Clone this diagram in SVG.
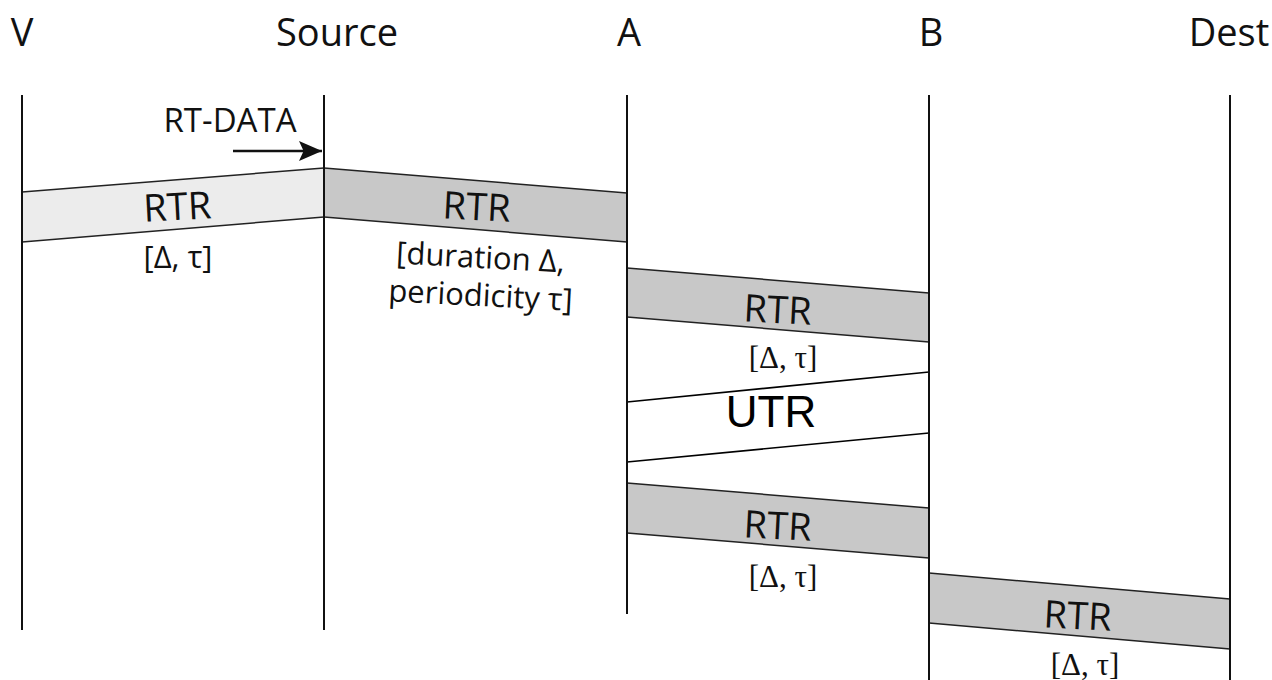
<svg xmlns="http://www.w3.org/2000/svg" width="1272" height="680" viewBox="0 0 1272 680">
  <style>
    .head { font-family: "Open Sans", "Liberation Sans", sans-serif; font-size: 38px; fill: #111; text-anchor: middle; }
    .life { stroke: #111; stroke-width: 2; fill: none; }
    .band { fill: #c8c8c8; stroke: none; }
    .band-light { fill: #ececec; stroke: none; }
    .edge { stroke: #222; stroke-width: 1.5; fill: none; }
    .utr-edge { stroke: #000; stroke-width: 1.6; fill: none; }
    .lbl { font-family: "Open Sans", "Liberation Sans", sans-serif; font-size: 38px; fill: #111; text-anchor: middle; }
    .sub { font-family: "Open Sans", "Liberation Sans", sans-serif; font-size: 31px; fill: #111; text-anchor: middle; }
    .subs { font-family: "Liberation Serif", serif; font-size: 31px; fill: #111; text-anchor: middle; }
    .utr { font-family: "Liberation Sans", Arial, sans-serif; font-size: 44px; fill: #000; text-anchor: middle; }
  </style>
  <defs>
    <marker id="arrowhead" viewBox="0 0 10 10" refX="10" refY="5" markerWidth="23" markerHeight="20" markerUnits="userSpaceOnUse" orient="auto" preserveAspectRatio="none">
      <path d="M0,0 L10,5 L0,10 L2,5 Z" fill="#111"/>
    </marker>
  </defs>
  <rect width="1272" height="680" fill="#fff"/>

  <!-- message bands between lifelines -->
  <g id="connectors">
    <!-- V -> Source reservation (light) -->
    <g id="rtr-v-source">
      <polygon class="band-light" points="22,192 324,168 324,217 22,242"/>
      <line class="edge" x1="22" y1="192" x2="324" y2="168"/>
      <line class="edge" x1="22" y1="242" x2="324" y2="217"/>
      <text class="lbl" x="178" y="220" transform="rotate(-3 178 220)">RTR</text>
      <text class="sub" x="178" y="268">[Δ, τ]</text>
    </g>
    <!-- Source -> A -->
    <g id="rtr-source-a">
      <polygon class="band" points="324,168 627,193 627,242 324,217"/>
      <line class="edge" x1="324" y1="168" x2="627" y2="193"/>
      <line class="edge" x1="324" y1="217" x2="627" y2="242"/>
      <text class="lbl" x="476" y="220" transform="rotate(3 476 220)">RTR</text>
      <text class="sub" x="480" y="268" transform="rotate(3 480 268)">[duration Δ,</text>
      <text class="sub" x="480" y="306" transform="rotate(3 480 306)">periodicity τ]</text>
    </g>
    <!-- A -> B -->
    <g id="rtr-a-b-1">
      <polygon class="band" points="627,268 929,293 929,342 627,317"/>
      <line class="edge" x1="627" y1="268" x2="929" y2="293"/>
      <line class="edge" x1="627" y1="317" x2="929" y2="342"/>
      <text class="lbl" x="777" y="323" transform="rotate(3 777 323)">RTR</text>
      <text class="subs" x="783" y="368">[Δ, τ]</text>
    </g>
    <!-- B -> A unreserved -->
    <g id="utr-b-a">
      <line class="utr-edge" x1="627" y1="402" x2="929" y2="372"/>
      <line class="utr-edge" x1="627" y1="462" x2="929" y2="433"/>
      <text class="utr" x="771" y="427">UTR</text>
    </g>
    <!-- A -> B again -->
    <g id="rtr-a-b-2">
      <polygon class="band" points="627,483 929,508 929,558 627,533"/>
      <line class="edge" x1="627" y1="483" x2="929" y2="508"/>
      <line class="edge" x1="627" y1="533" x2="929" y2="558"/>
      <text class="lbl" x="777" y="539" transform="rotate(3 777 539)">RTR</text>
      <text class="subs" x="783" y="587">[Δ, τ]</text>
    </g>
    <!-- B -> Dest -->
    <g id="rtr-b-dest">
      <polygon class="band" points="929,573 1230,599 1230,649 929,623"/>
      <line class="edge" x1="929" y1="573" x2="1230" y2="599"/>
      <line class="edge" x1="929" y1="623" x2="1230" y2="649"/>
      <text class="lbl" x="1077" y="629" transform="rotate(3 1077 629)">RTR</text>
      <text class="subs" x="1085" y="675">[Δ, τ]</text>
    </g>
    <!-- data arriving at Source -->
    <g id="rt-data">
      <line x1="233" y1="151" x2="322" y2="151" stroke="#111" stroke-width="2.5" marker-end="url(#arrowhead)"/>
      <text class="sub" x="230" y="132" style="font-size:33px">RT-DATA</text>
    </g>
  </g>

  <!-- lifelines -->
  <g id="node-v">
    <text class="head" x="22" y="46">V</text>
    <line class="life" x1="22" y1="95" x2="22" y2="630"/>
  </g>
  <g id="node-source">
    <text class="head" x="337" y="46">Source</text>
    <line class="life" x1="324" y1="95" x2="324" y2="630"/>
  </g>
  <g id="node-a">
    <text class="head" x="629" y="46">A</text>
    <line class="life" x1="627" y1="95" x2="627" y2="614"/>
  </g>
  <g id="node-b">
    <text class="head" x="931" y="46">B</text>
    <line class="life" x1="929" y1="95" x2="929" y2="680"/>
  </g>
  <g id="node-dest">
    <text class="head" x="1229" y="46">Dest</text>
    <line class="life" x1="1230" y1="95" x2="1230" y2="680"/>
  </g>
</svg>
